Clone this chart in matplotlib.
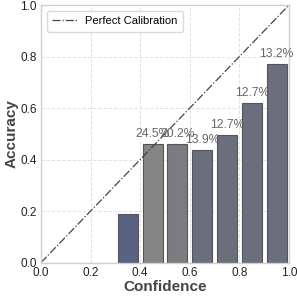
import matplotlib
matplotlib.use('Agg')
import matplotlib.pyplot as plt
import numpy as np

# bin centres, accuracy per bin, share of samples per bin
bin_centers = [0.35, 0.45, 0.55, 0.65, 0.75, 0.85, 0.95]
accuracy = [0.19, 0.46, 0.46, 0.437, 0.495, 0.619, 0.77]
labels = ["", "24.5%", "20.2%", "13.9%", "12.7%", "12.7%", "13.2%"]
colors = ["#596283", "#858585", "#7b7c82", "#6b6e7d", "#6b6e7d", "#6b6e7d", "#6b6e7d"]

plt.rcParams['font.family'] = ['Liberation Sans', 'DejaVu Sans']

fig = plt.figure(figsize=(2.97, 2.97), dpi=100)
ax = fig.add_axes([0.138, 0.116, 0.835, 0.867])

ax.grid(True, linestyle='--', color='#e3e3e3', linewidth=0.7)
ax.set_axisbelow(True)

ax.plot([0, 1], [0, 1], linestyle='-.', color='#444444', linewidth=0.9,
        label='Perfect Calibration')
bars = ax.bar(bin_centers, accuracy, width=0.08, color=colors,
              edgecolor='#555555', linewidth=0.8)

for b, lab in zip(bars, labels):
    if lab:
        ax.text(b.get_x() + b.get_width() / 2, b.get_height() + 0.015, lab,
                ha='center', va='bottom', fontsize=8.7, color='#666666')

ax.set_xlim(0, 1)
ax.set_ylim(0, 1)
ax.set_xticks(np.arange(0, 1.01, 0.2))
ax.set_yticks(np.arange(0, 1.01, 0.2))
ax.tick_params(labelsize=8.5, length=0, pad=3, colors='#222222')
for s in ax.spines.values():
    s.set_color('#d0d0d0')
    s.set_linewidth(1.0)

ax.set_xlabel('Confidence', fontsize=11, fontweight='bold', color='#444444', labelpad=1)
ax.set_ylabel('Accuracy', fontsize=11, fontweight='bold', color='#444444', labelpad=1)

ax.legend(loc='upper left', fontsize=8, frameon=True, edgecolor='#d0d0d0',
          handlelength=2.2, borderpad=0.5)

fig.savefig('out.png', dpi=100)
